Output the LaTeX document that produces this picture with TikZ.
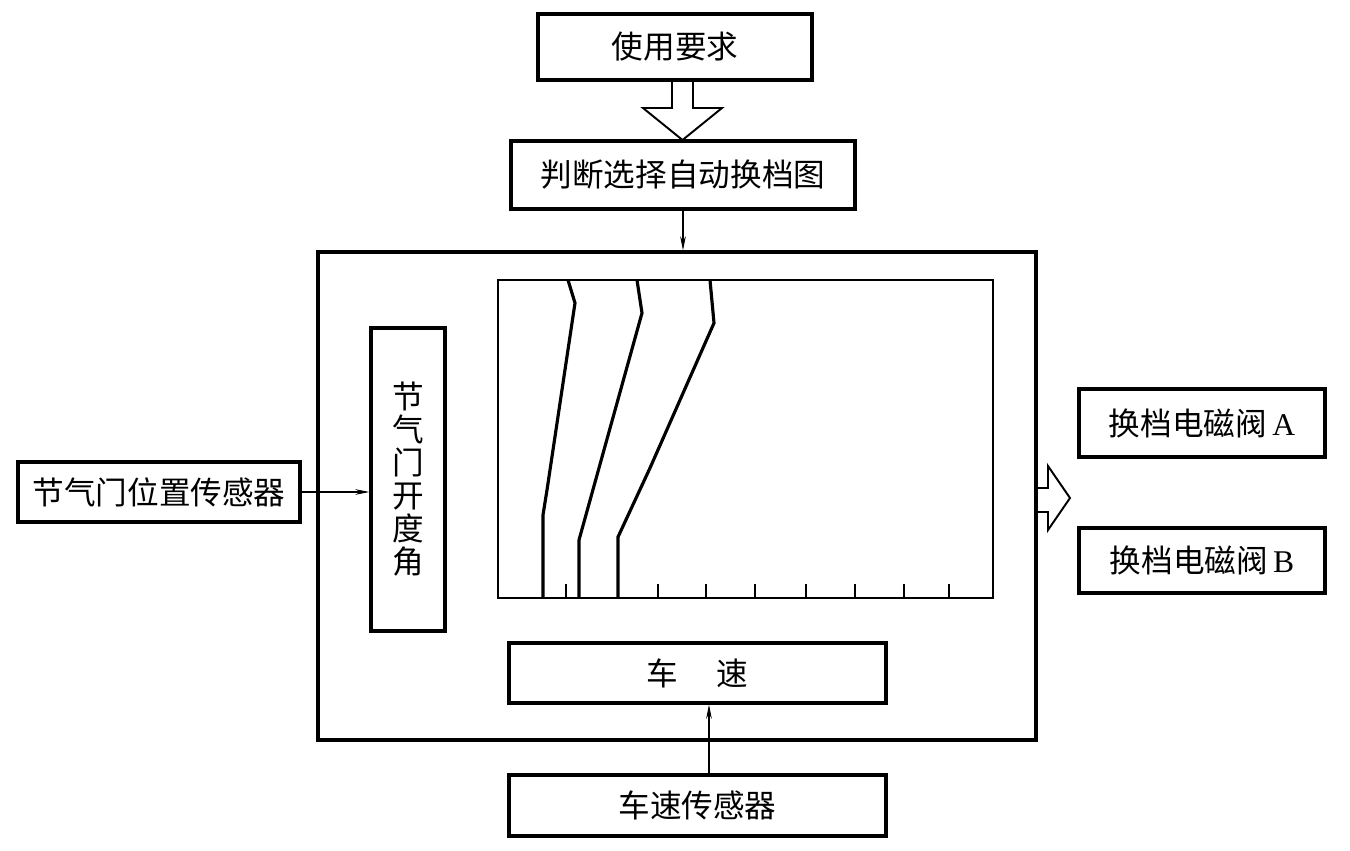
\documentclass[tikz,border=0pt]{standalone}
\usepackage{fontspec}
\setmainfont{Liberation Serif}
\newfontfamily\cjk{Noto Sans CJK SC}
\usetikzlibrary{arrows.meta,calc}
\def\pxu{0.02cm}
\tikzset{
  box/.style={draw, line width=1.9pt, inner sep=0pt, font=\cjk\fontsize{18}{20}\selectfont},
  thinarrow/.style={line width=0.6pt, -{Stealth[length=8pt,width=3.2pt]}},
  curve/.style={line width=1.8pt, line join=miter},
  hollow/.style={line width=1.1pt, line join=miter}
}
\begin{document}
\begin{tikzpicture}[x=0.02cm,y=-0.02cm]
\useasboundingbox (0,0) rectangle (1350,850);
% boxes
\node[box, minimum width=274*\pxu, minimum height=66*\pxu] (use) at (675,47) {使用要求};
\node[box, minimum width=344*\pxu, minimum height=68*\pxu] (judge) at (683,175) {判断选择自动换档图};
\node[box, minimum width=718*\pxu, minimum height=488*\pxu] (main) at (677,496) {};
\node[draw, line width=0.8pt, inner sep=0pt, minimum width=495*\pxu, minimum height=318*\pxu] (chart) at (745.5,439) {};
\node[box, minimum width=74*\pxu, minimum height=303*\pxu, align=center, font=\cjk\fontsize{18}{18.8}\selectfont] (thr) at (408,479.5) {节\\气\\门\\开\\度\\角};
\node[box, minimum width=282*\pxu, minimum height=60*\pxu] (tps) at (159,492) {节气门位置传感器};
\node[box, minimum width=377*\pxu, minimum height=60*\pxu] (speed) at (697.5,673) {车\hspace{1.2em}速};
\node[box, minimum width=377*\pxu, minimum height=61*\pxu] (vss) at (697.5,805.5) {车速传感器};
\node[box, minimum width=246*\pxu, minimum height=68*\pxu] (va) at (1202,423) {换档电磁阀\,{\rmfamily A}};
\node[box, minimum width=246*\pxu, minimum height=65*\pxu] (vb) at (1202,560.5) {换档电磁阀\,{\rmfamily B}};
% hollow arrow top
\draw[hollow] (672,80) -- (672,108) -- (643,108) -- (682.5,140) -- (722,108) -- (693,108) -- (693,80);
% hollow arrow right
\draw[hollow] (1036,488) -- (1048,488) -- (1048,466) -- (1070,498) -- (1048,530) -- (1048,512) -- (1036,512);
% thin arrows
\draw[thinarrow] (judge.south) -- (judge.south |- main.north);
\draw[thinarrow] (tps.east) -- (tps.east -| thr.west);
\coordinate (vs) at ($(vss.north)+(11.5,0)$);
\draw[thinarrow] (vs) -- (vs |- speed.south);
% shift curves
\draw[curve] (568,280) -- (575,303) -- (547,490) -- (543,515) -- (543,598);
\draw[curve] (637,280) -- (642,313) -- (579,540) -- (579,598);
\draw[curve] (710,280) -- (714,323) -- (680,400) -- (650,468) -- (618,537) -- (618,598);
% ticks
\foreach \t in {566,658,706,755,806,855,904,949}
  \draw[line width=0.8pt] (\t,598) -- (\t,584);
\end{tikzpicture}
\end{document}
